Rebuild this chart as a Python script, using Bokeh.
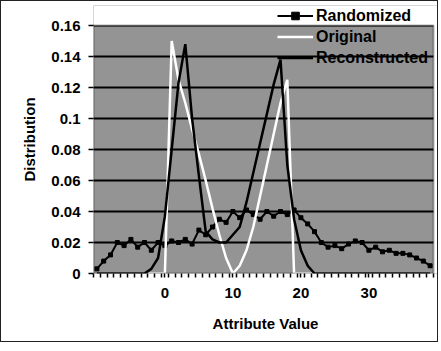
from bokeh.plotting import figure
from bokeh.models import Range1d, FixedTicker, Legend, LegendItem, BoxAnnotation
from bokeh.embed import file_html
from bokeh.resources import INLINE

# ---- data ----
attribute = list(range(-10, 40))

randomized = [0.003, 0.008, 0.012, 0.020, 0.018, 0.022, 0.017, 0.020, 0.015, 0.020,
              0.018, 0.021, 0.020, 0.022, 0.019, 0.028, 0.025, 0.030, 0.035, 0.033,
              0.040, 0.036, 0.041, 0.038, 0.035, 0.040, 0.037, 0.040, 0.038, 0.041,
              0.036, 0.032, 0.027, 0.020, 0.017, 0.018, 0.016, 0.019, 0.021, 0.020,
              0.015, 0.017, 0.014, 0.015, 0.013, 0.013, 0.012, 0.010, 0.008, 0.005]

original = [0.0, 0.0, 0.0, 0.0, 0.0, 0.0, 0.0, 0.0, 0.0, 0.0,
            0.0, 0.150, 0.125, 0.110, 0.093, 0.077, 0.060, 0.042, 0.025, 0.010,
            0.0, 0.005, 0.015, 0.030, 0.050, 0.070, 0.090, 0.110, 0.125, 0.0,
            0.0, 0.0, 0.0, 0.0, 0.0, 0.0, 0.0, 0.0, 0.0, 0.0,
            0.0, 0.0, 0.0, 0.0, 0.0, 0.0, 0.0, 0.0, 0.0, 0.0]

reconstructed = [0.0, 0.0, 0.0, 0.0, 0.0, 0.0, 0.0, 0.0, 0.003, 0.010,
                 0.037, 0.080, 0.123, 0.148, 0.100, 0.063, 0.027, 0.022, 0.020, 0.020,
                 0.025, 0.030, 0.046, 0.065, 0.084, 0.103, 0.122, 0.138, 0.070, 0.035,
                 0.015, 0.005, 0.0, 0.0, 0.0, 0.0, 0.0, 0.0, 0.0, 0.0,
                 0.0, 0.0, 0.0, 0.0, 0.0, 0.0, 0.0, 0.0, 0.0, 0.0]

y_ticks = [0, 0.02, 0.04, 0.06, 0.08, 0.1, 0.12, 0.14, 0.16]
y_labels = ["0", "0.02", "0.04", "0.06", "0.08", "0.1", "0.12", "0.14", "0.16"]
x_ticks = [0, 10, 20, 30]

X_MIN, X_MAX = -10.5, 39.5
Y_MIN, Y_MAX = 0.0, 0.16

FONT = "Liberation Sans"

# frame is made a little larger than the data box, so the legend can sit
# above the plot area (as in the reference) without being clipped
PX_PER_X = 6.8
PX_PER_Y = 248 / 0.16
x_end = X_MAX + 4 / PX_PER_X
y_end = Y_MAX + 20 / PX_PER_Y

p = figure(width=438, height=342,
           x_range=Range1d(X_MIN, x_end), y_range=Range1d(Y_MIN, y_end),
           output_backend="svg", toolbar_location=None,
           min_border_left=92, min_border_right=2,
           min_border_top=4, min_border_bottom=70)
p.styles = {"border": "1px solid #222"}

p.background_fill_color = "#949494"
p.border_fill_color = "white"
p.outline_line_color = None

# white margins above / right of the data box
p.add_layout(BoxAnnotation(bottom=Y_MAX, fill_color="white", fill_alpha=1,
                           line_alpha=0, level="underlay"))
p.add_layout(BoxAnnotation(left=X_MAX, fill_color="white", fill_alpha=1,
                           line_alpha=0, level="underlay"))

# grid
p.xgrid.visible = False
p.ygrid.ticker = FixedTicker(ticks=y_ticks)
p.ygrid.grid_line_color = "black"
p.ygrid.grid_line_width = 2
p.ygrid.grid_line_alpha = 1

# axes
p.xaxis.ticker = FixedTicker(ticks=x_ticks,
                             minor_ticks=[v + 0.5 for v in range(-11, 40)])
p.yaxis.ticker = FixedTicker(ticks=y_ticks, minor_ticks=[])
p.yaxis.major_label_overrides = {t: l for t, l in zip(y_ticks, y_labels)}

for ax in (p.xaxis[0], p.yaxis[0]):
    ax.axis_line_color = None
    ax.major_tick_line_color = "black"
    ax.major_tick_line_width = 1.5
    ax.minor_tick_line_color = "black"
    ax.minor_tick_line_width = 1.5
    ax.major_tick_in = 0
    ax.minor_tick_in = 0
    ax.major_label_text_font = FONT
    ax.major_label_text_font_style = "bold"
    ax.major_label_text_font_size = "15px"
    ax.major_label_text_color = "black"
    ax.axis_label_text_font = FONT
    ax.axis_label_text_font_style = "bold"
    ax.axis_label_text_font_size = "15px"
    ax.axis_label_text_color = "black"

p.xaxis.major_tick_out = 4
p.xaxis.minor_tick_out = 4
p.xaxis.major_label_standoff = 10
p.xaxis.axis_label = "Attribute Value"
p.xaxis.axis_label_standoff = 14

p.yaxis.major_tick_out = 5
p.yaxis.minor_tick_out = 0
p.yaxis.major_label_standoff = 8
p.yaxis.axis_label = "Distribution"
p.yaxis.axis_label_standoff = 10

# series
r_line = p.line(attribute, randomized, line_color="black", line_width=2)
r_mark = p.scatter(attribute, randomized, marker="square", size=4,
                   fill_color="black", line_color="black")
o_line = p.line(attribute, original, line_color="white", line_width=2.5)
c_line = p.line(attribute, reconstructed, line_color="black", line_width=2.5)

# border of the data box (axes lines + top/right edges)
p.add_layout(BoxAnnotation(left=X_MIN, right=X_MAX, bottom=Y_MIN, top=Y_MAX,
                           fill_alpha=0, line_color="black", line_width=2))

legend = Legend(items=[
    LegendItem(label="Randomized", renderers=[r_line, r_mark]),
    LegendItem(label="Original", renderers=[o_line]),
    LegendItem(label="Reconstructed", renderers=[c_line]),
], location=(184, 206))
legend.background_fill_alpha = 0
legend.border_line_alpha = 0
legend.padding = 0
legend.margin = 0
legend.spacing = 2
legend.glyph_width = 36
legend.glyph_height = 19
legend.label_height = 19
legend.label_standoff = 3
legend.label_text_font = FONT
legend.label_text_font_style = "bold"
legend.label_text_font_size = "16px"
legend.label_text_color = "black"
p.add_layout(legend, "center")

open("out.html", "w").write(file_html(p, INLINE))
